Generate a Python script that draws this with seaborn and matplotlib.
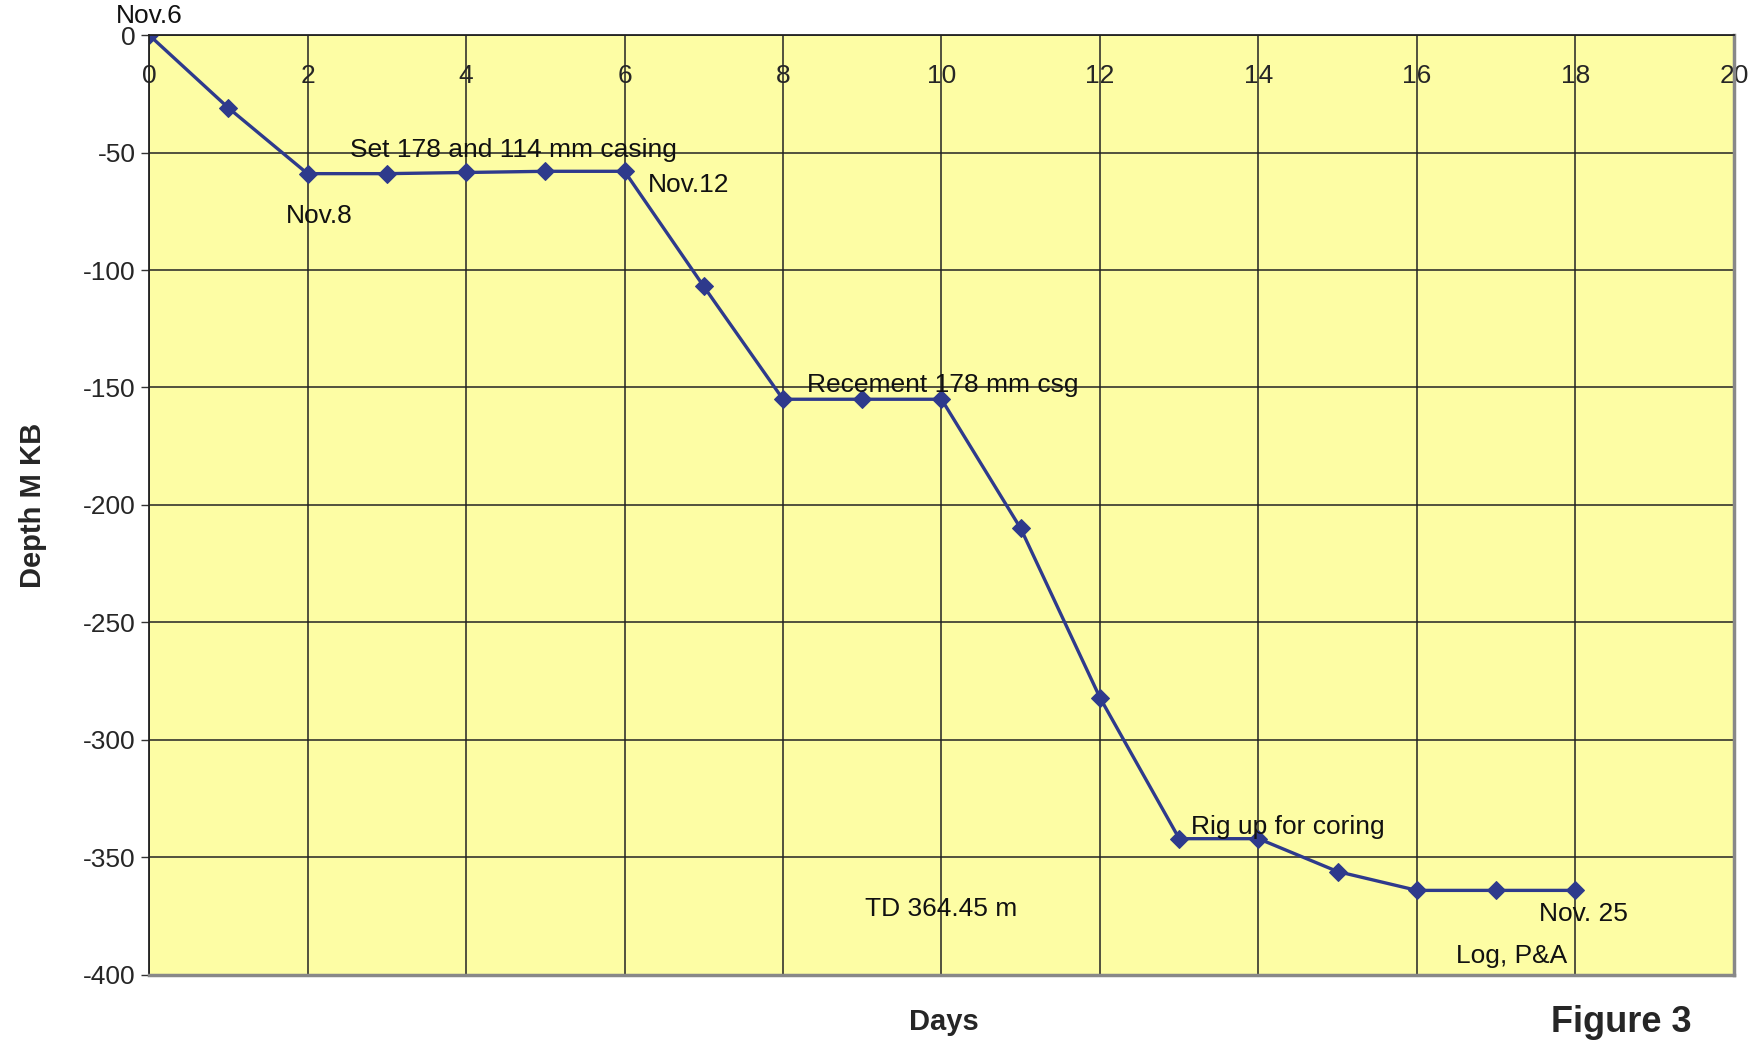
import pandas as pd
import numpy as np
import seaborn as sns
import matplotlib.pyplot as plt

# drilling progress, one point per day
days = list(range(0, 19))
depth = [0, -31, -59, -59, -58.5, -58, -58, -107, -155, -155, -155,
         -210, -282, -342, -342, -356, -364, -364, -364]

x_ticks = [0, 2, 4, 6, 8, 10, 12, 14, 16, 18, 20]
y_ticks = [0, -50, -100, -150, -200, -250, -300, -350, -400]

notes = ['Nov.6', 'Nov.8', 'Set 178 and 114 mm casing', 'Nov.12',
         'Recement 178 mm csg', 'TD 364.45 m', 'Rig up for coring',
         'Nov. 25', 'Log, P&A']
note_x = [0, 2.15, 4.6, 6.3, 8.3, 10.0, 13.15, 18.1, 17.2]
note_y = [8, -77, -49, -64, -149, -372, -337, -374, -392]
note_ha = ['center', 'center', 'center', 'left', 'left', 'center', 'left',
           'center', 'center']

df = pd.DataFrame({'Days': days, 'Depth': depth})

sns.set_style('white')
plt.rcParams['font.family'] = ['Liberation Sans', 'DejaVu Sans']
plt.rcParams['axes.unicode_minus'] = False

fig = plt.figure(figsize=(17.58, 10.45), dpi=100)
ax = fig.add_axes([0.0848, 0.067, 0.9015, 0.8995])
ax.set_facecolor('#fdfda4')

sns.lineplot(data=df, x='Days', y='Depth', ax=ax, color='#2e3a8c',
             linewidth=2.4, marker='D', markersize=9.5, markeredgecolor='#2e3a8c')

ax.set_xlim(0, 20)
ax.set_ylim(-400, 0)
ax.set_xticks(x_ticks)
ax.set_yticks(y_ticks)
ax.grid(True, color='#222222', linewidth=1.1)
ax.set_axisbelow(True)

ax.xaxis.tick_top()
ax.tick_params(axis='x', which='both', length=0, pad=-38, labelsize=19)
ax.tick_params(axis='y', length=6, width=1, direction='out', labelsize=19,
               left=True, color='#333333')
ax.set_xlabel('')
ax.set_ylabel('Depth M KB', fontsize=21, fontweight='bold', labelpad=26)

for s in ['left', 'top']:
    ax.spines[s].set_color('#222222')
    ax.spines[s].set_linewidth(1.3)
for s in ['right', 'bottom']:
    ax.spines[s].set_color('#888888')
    ax.spines[s].set_linewidth(2.5)

for t, x, y, ha in zip(notes, note_x, note_y, note_ha):
    ax.text(x, y, t, fontsize=19, ha=ha, va='center', color='#111111',
            clip_on=False)

fig.text(0.537, 0.022, 'Days', fontsize=21, fontweight='bold', ha='center',
         va='center')
fig.text(0.922, 0.022, 'Figure 3', fontsize=26, fontweight='bold', ha='center',
         va='center')

fig.savefig('out.png', dpi=100)
